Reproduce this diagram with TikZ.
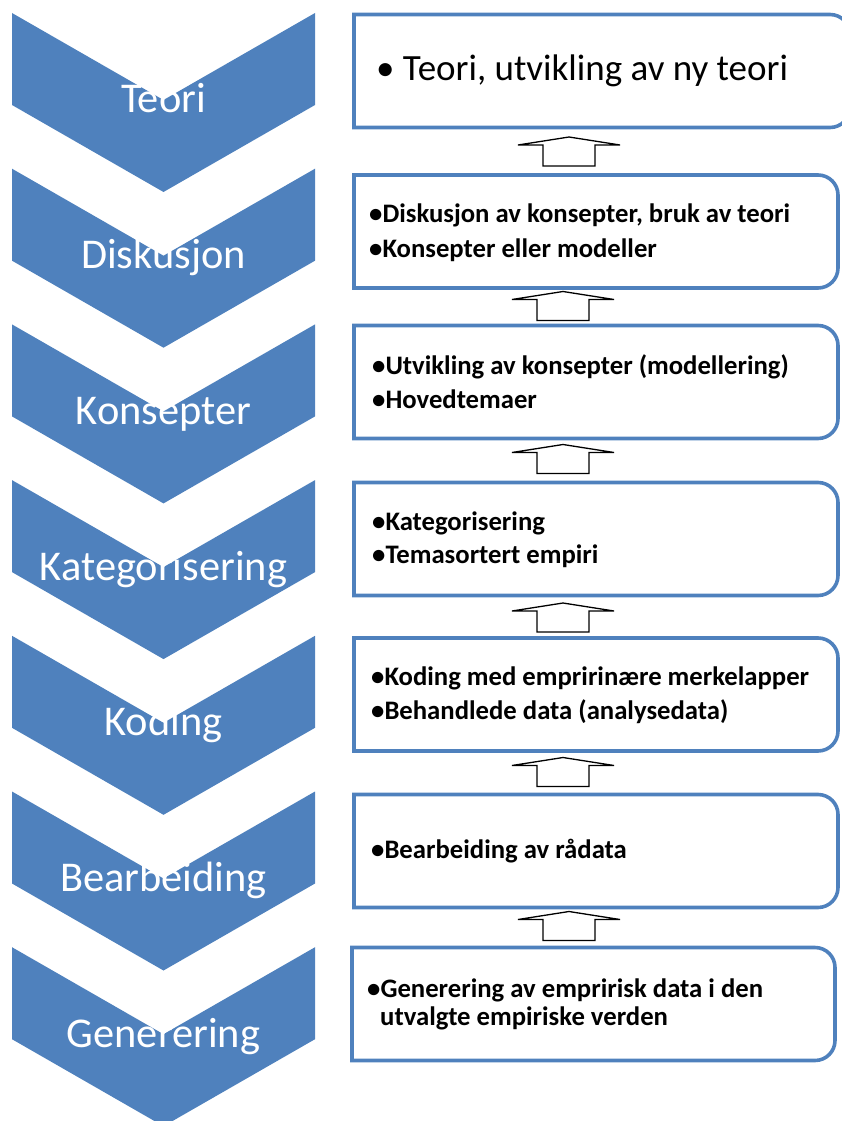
\documentclass[tikz,border=0pt]{standalone}
\usepackage{fontspec}
\setmainfont{Carlito}
\usetikzlibrary{calc}
\definecolor{accent}{HTML}{4F81BD}

% outline of a box with square left corners and rounded right corners
\newcommand\boxoutline[1]{%
  \draw[boxline] (#1.south west) -- (#1.north west)
    -- ([xshift=-20pt]#1.north east) arc[start angle=90,end angle=0,radius=20pt]
    -- ([yshift=20pt]#1.south east) arc[start angle=0,end angle=-90,radius=20pt]
    -- cycle;}

\begin{document}
\begin{tikzpicture}[x=1pt,y=-1pt,
  chev/.style={fill=accent},
  chevlabel/.style={text=white,font=\fontsize{42.4}{50}\selectfont,inner sep=0pt,anchor=base},
  boxshape/.style={draw=none,minimum width=484pt,minimum height=113pt,inner sep=0pt,outer sep=0pt},
  boxline/.style={draw=accent,line width=3.6pt},
  boxtext/.style={font=\bfseries\fontsize{26.7}{30}\selectfont,inner sep=0pt,anchor=base west},
  toptext/.style={font=\fontsize{37}{42}\selectfont,inner sep=0pt,anchor=base west},
  arrowline/.style={draw=black,line width=1.3pt,fill=white,line join=miter},
  pics/uparr/.style={code={
    \draw[arrowline] (-26,0) -- (-26,-21) -- (-51,-21) -- (0,-29)
      -- (51,-21) -- (26,-21) -- (26,0) -- cycle;}},
]
\useasboundingbox (0,0) rectangle (841,1121);

% chevrons on the left
\foreach \i/\lbl in {0/Teori,1/Diskusjon,2/Konsepter,3/Kategorisering,4/Koding,5/Bearbeiding,6/Generering}{
  \pgfmathsetmacro\T{13+155.7*\i}
  \fill[chev] (12,\T) -- (163.5,\T+87) -- (315,\T) -- (315,\T+92)
    -- (163.5,\T+179) -- (12,\T+92) -- cycle;
  \node[chevlabel] (c\i) at (163.5,\T+100) {\lbl};
}

% boxes on the right
\node[boxshape,minimum width=496pt] (b1) at (602,71) {};
\node[boxshape] (b2) at (596,231.5) {};
\node[boxshape] (b3) at (596,382) {};
\node[boxshape] (b4) at (596,539) {};
\node[boxshape] (b5) at (596,694.5) {};
\node[boxshape] (b6) at (596,851) {};
\node[boxshape,minimum width=483pt] (b7) at (593.5,1004) {};
\foreach \b in {b1,b2,b3,b4,b5,b6,b7}{\boxoutline{\b}}

% box texts
\node[toptext] (t1) at (376,81) {• Teori, utvikling av ny teori};
\node[boxtext] (t2a) at (369,222) {•Diskusjon av konsepter, bruk av teori};
\node[boxtext] (t2b) at (369,257) {•Konsepter eller modeller};
\node[boxtext] (t3a) at (372,374) {•Utvikling av konsepter (modellering)};
\node[boxtext] (t3b) at (372,408) {•Hovedtemaer};
\node[boxtext] (t4a) at (372,530) {•Kategorisering};
\node[boxtext] (t4b) at (372,563) {•Temasortert empiri};
\node[boxtext] (t5a) at (371,685) {•Koding med empririnære merkelapper};
\node[boxtext] (t5b) at (371,719) {•Behandlede data (analysedata)};
\node[boxtext] (t6a) at (371,858) {•Bearbeiding av rådata};
\node[boxtext] (t7a) at (367,997) {•Generering av empririsk data i den};
\node[boxtext] (t7b) at (380,1025) {utvalgte empiriske verden};

% up arrows between the boxes
\pic (a1) at ([xshift=-27pt,yshift=9pt]b2.north) {uparr};
\pic (a2) at ([xshift=-33pt,yshift=5pt]b3.north) {uparr};
\pic (a3) at ([xshift=-33pt,yshift=9pt]b4.north) {uparr};
\pic (a4) at ([xshift=-33pt,yshift=6pt]b5.north) {uparr};
\pic (a5) at ([xshift=-33pt,yshift=8pt]b6.north) {uparr};
\pic (a6) at ([xshift=-24.5pt,yshift=7pt]b7.north) {uparr};
\end{tikzpicture}
\end{document}
